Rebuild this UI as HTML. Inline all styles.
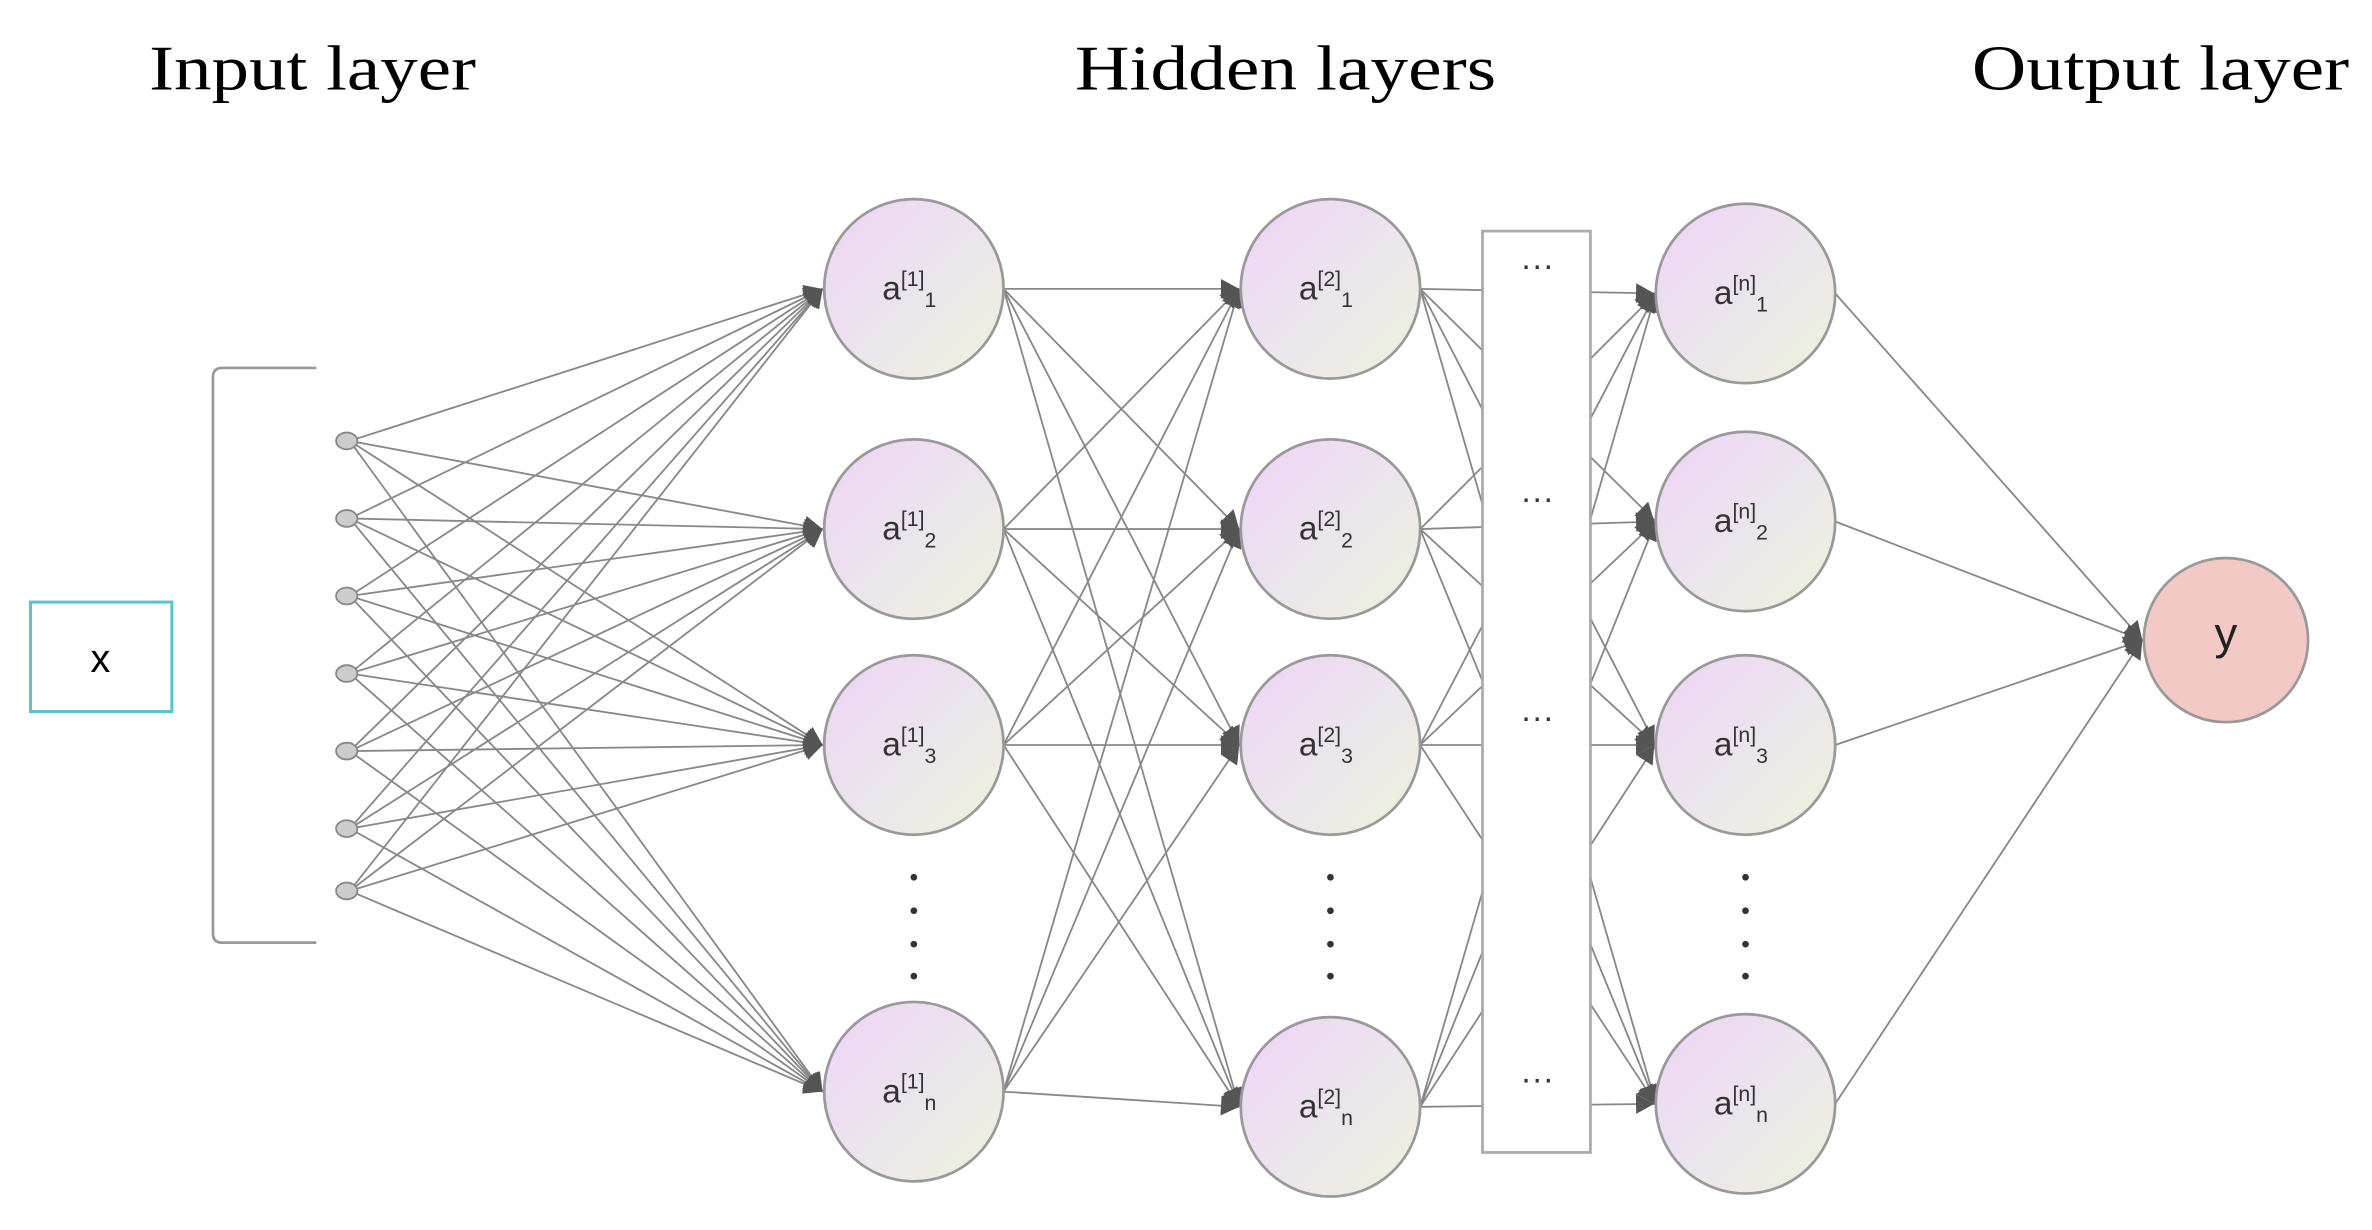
<!DOCTYPE html>
<html><head><meta charset="utf-8"><style>
html,body{margin:0;padding:0;background:#fff;}
svg{display:block;}
</style></head><body>
<svg id="s" width="2372" height="1230" viewBox="0 0 1560 809" xmlns="http://www.w3.org/2000/svg">
<defs>
<linearGradient id="g" x1="0" y1="0" x2="1" y2="1">
<stop offset="0" stop-color="#efd3f7"/><stop offset="0.55" stop-color="#ebe6ec"/><stop offset="1" stop-color="#eef3dc"/>
</linearGradient>
</defs>
<g font-family="Liberation Serif, serif" font-size="42" fill="#000">
<text x="98" y="59" textLength="215" lengthAdjust="spacingAndGlyphs">Input layer</text>
<text x="707" y="59" textLength="277" lengthAdjust="spacingAndGlyphs">Hidden layers</text>
<text x="1297" y="59" textLength="248" lengthAdjust="spacingAndGlyphs">Output layer</text>
</g>
<rect x="20" y="396" width="93" height="72" fill="#fff" stroke="#5bc3cc" stroke-width="2"/>
<text x="66" y="442" font-family="Liberation Sans, sans-serif" font-size="26" text-anchor="middle">x</text>
<path d="M208 242 H146 Q140 242 140 248 V614 Q140 620 146 620 H208" fill="none" stroke="#999" stroke-width="1.8"/>
<g id="lines" stroke="#888" stroke-width="1.2" fill="none"></g>
<rect x="975" y="152" width="71" height="606" fill="#fff" stroke="#aaa" stroke-width="1.8"/>
<g id="lines2" stroke="#888" stroke-width="1.2" fill="none"></g>
<g id="arrows" fill="#555"></g>
<g id="nodes"></g>
<g font-family="Liberation Sans, sans-serif" font-size="22" fill="#333" text-anchor="middle">
<text x="1011" y="182">···</text><text x="1011" y="335">···</text><text x="1011" y="479">···</text><text x="1011" y="717">···</text>
</g>
<g fill="#333">
<circle cx="601" cy="577" r="2.2"/><circle cx="601" cy="599" r="2.2"/><circle cx="601" cy="621" r="2.2"/><circle cx="601" cy="642" r="2.2"/>
<circle cx="875" cy="577" r="2.2"/><circle cx="875" cy="599" r="2.2"/><circle cx="875" cy="621" r="2.2"/><circle cx="875" cy="642" r="2.2"/>
<circle cx="1148" cy="577" r="2.2"/><circle cx="1148" cy="599" r="2.2"/><circle cx="1148" cy="621" r="2.2"/><circle cx="1148" cy="642" r="2.2"/>
</g>
</svg>
<script>
(function(){
var NS="http://www.w3.org/2000/svg";
function el(p,t,a){var e=document.createElementNS(NS,t);for(var k in a)e.setAttribute(k,a[k]);document.getElementById(p).appendChild(e);return e;}
var R=59;
var inp=[290,341,392,443,494,545,586];
var L1={x:601,y:[190,348,490,718]},L2={x:875,y:[190,348,490,728]},Ln={x:1148,y:[193,343,490,726]};
var Y={x:1464,y:421,r:54};
function line(g,x1,y1,x2,y2){el(g,"line",{x1:x1,y1:y1,x2:x2,y2:y2});}
function arrow(x,y,ang){var s=12,w=6.5;var bx=x-s*Math.cos(ang),by=y-s*Math.sin(ang);var px=-Math.sin(ang)*w,py=Math.cos(ang)*w;
el("arrows","polygon",{points:x+","+y+" "+(bx+px)+","+(by+py)+" "+(bx-px)+","+(by-py)});}
function conn(g,x1,y1,x2,y2,arr){line(g,x1,y1,x2,y2);if(arr)arrow(x2,y2,Math.atan2(y2-y1,x2-x1));}
inp.forEach(function(y){L1.y.forEach(function(t){conn("lines",230,y,L1.x-R-1,t,true);});});
L1.y.forEach(function(s){L2.y.forEach(function(t){conn("lines",L1.x+R,s,L2.x-R-1,t,true);});});
// L2 -> Ln through box (box drawn over)
L2.y.forEach(function(s){Ln.y.forEach(function(t){line("lines",L2.x+R,s,Ln.x-R,t);});});
Ln.y.forEach(function(t){Ln.y.forEach(function(s,j){
  // visible segment from box right edge to Ln
  var sy=s; var f=(1046-(L2.x+R))/((Ln.x-R)-(L2.x+R));
  L2.y.forEach(function(u){});
});});
// arrows at Ln: recompute each incoming line's angle
L2.y.forEach(function(s){Ln.y.forEach(function(t){arrow(Ln.x-R-1,t,Math.atan2(t-s,(Ln.x-R)-(L2.x+R)));});});
Ln.y.forEach(function(s){conn("lines2",Ln.x+R,s,Y.x-Y.r-1,Y.y,true);});
inp.forEach(function(y){el("nodes","ellipse",{cx:228,cy:y,rx:7,ry:5.5,fill:"#ccc",stroke:"#888","stroke-width":1.2});});
function node(x,y,sup,sub){el("nodes","circle",{cx:x,cy:y,r:R,fill:"url(#g)",stroke:"#999","stroke-width":1.8});
var t=el("nodes","text",{x:x-3,y:y+7,"font-family":"Liberation Sans, sans-serif","font-size":22,fill:"#333","text-anchor":"middle"});
t.innerHTML='a<tspan font-size="14" dy="-9">'+sup+'</tspan><tspan font-size="14" dy="14">'+sub+'</tspan>';}
var subs=["1","2","3","n"];
L1.y.forEach(function(y,i){node(L1.x,y,"[1]",subs[i]);});
L2.y.forEach(function(y,i){node(L2.x,y,"[2]",subs[i]);});
Ln.y.forEach(function(y,i){node(Ln.x,y,"[n]",subs[i]);});
el("nodes","circle",{cx:Y.x,cy:Y.y,r:Y.r,fill:"#f3c9c6",stroke:"#999","stroke-width":1.8});
var ty=el("nodes","text",{x:Y.x,y:Y.y+6,"font-family":"Liberation Sans, sans-serif","font-size":30,fill:"#222","text-anchor":"middle"});ty.textContent="y";
})();
</script>
</body></html>
